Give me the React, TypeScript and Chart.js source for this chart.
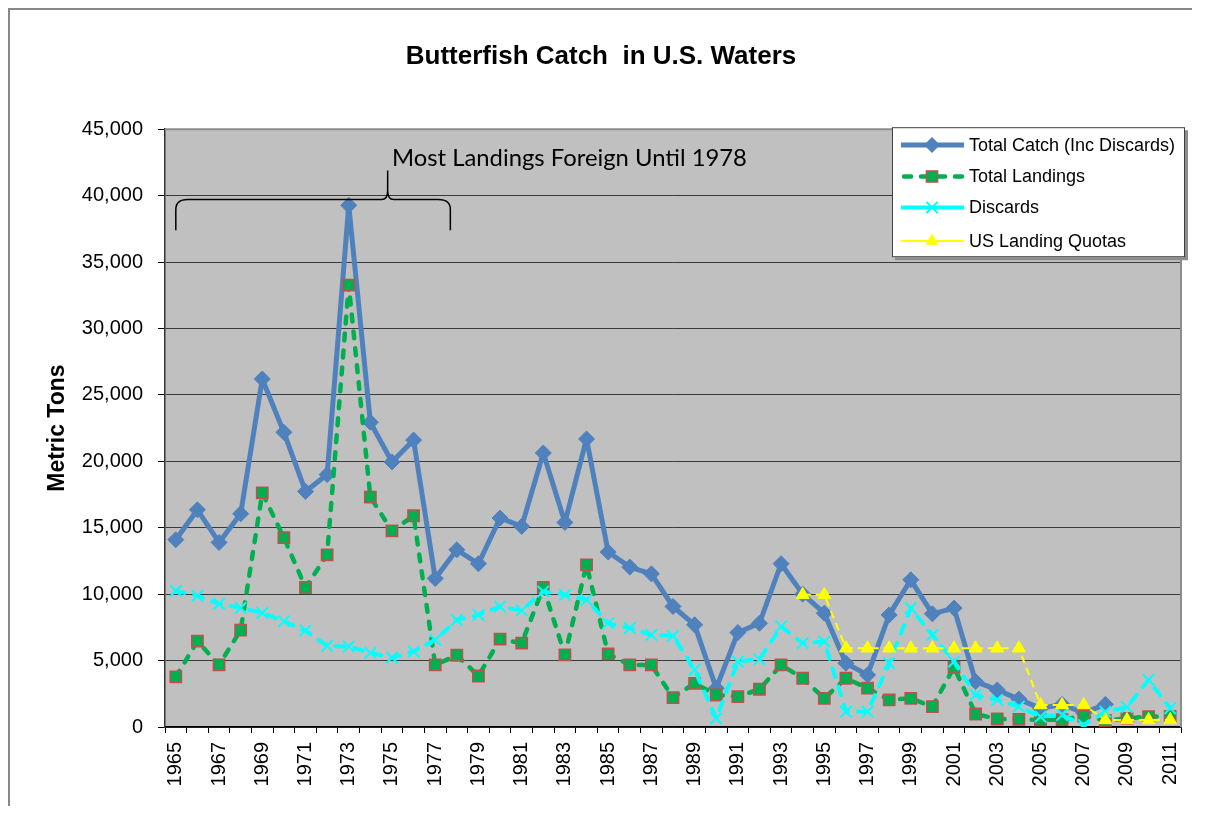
import React, { useEffect, useRef } from "react";
import { Chart, registerables } from "chart.js";

Chart.register(...registerables);

const years = [
  "1965","1966","1967","1968","1969","1970","1971","1972","1973","1974",
  "1975","1976","1977","1978","1979","1980","1981","1982","1983","1984",
  "1985","1986","1987","1988","1989","1990","1991","1992","1993","1994",
  "1995","1996","1997","1998","1999","2000","2001","2002","2003","2004",
  "2005","2006","2007","2008","2009","2010","2011",
];

const totalCatch = [
  14100, 16350, 13890, 16050, 26200, 22180, 17730, 19000, 39270, 22940,
  19950, 21600, 11180, 13340, 12290, 15730, 15100, 20630, 15400, 21680,
  13170, 12040, 11530, 9070, 7690, 2920, 7110, 7810, 12290, 10000,
  8570, 4800, 3920, 8440, 11080, 8520, 8950, 3420, 2790, 2100,
  1400, 1700, 1050, 1700, null, null, null,
];

const totalLandings = [
  3770, 6460, 4670, 7290, 17620, 14250, 10500, 12960, 33260, 17300,
  14770, 15900, 4670, 5400, 3840, 6610, 6310, 10500, 5430, 12210,
  5500, 4670, 4670, 2210, 3290, 2410, 2290, 2840, 4670, 3670,
  2160, 3670, 2920, 2040, 2160, 1530, 4500, 980, 600, 580,
  530, 560, 830, 500, 650, 780, 800,
];

const discards = [
  10250, 9870, 9270, 8970, 8590, 7960, 7260, 6100, 6060, 5580,
  5220, 5680, 6560, 8060, 8440, 9070, 8770, 10200, 9950, 9570,
  7810, 7440, 6930, 6860, 4300, 650, 4920, 5100, 7560, 6310,
  6430, 1150, 1150, 4800, 8950, 6930, 4920, 2410, 2040, 1530,
  780, 900, 150, 1150, 1500, 3540, 1410,
];

const landingQuotas = [
  null, null, null, null, null, null, null, null, null, null,
  null, null, null, null, null, null, null, null, null, null,
  null, null, null, null, null, null, null, null, null, 9950,
  9950, 5930, 5930, 5930, 5930, 5930, 5930, 5930, 5930, 5930,
  1660, 1660, 1660, 530, 530, 530, 530,
];

const seriesNames = [
  "Total Catch (Inc Discards)",
  "Total Landings",
  "Discards",
  "US Landing Quotas",
];

const chartTitle = "Butterfish Catch  in U.S. Waters";
const yAxisTitle = "Metric Tons";
const annotationText = "Most Landings Foreign Until 1978";
// annotation anchor positions in data units (category index, value)
const braceLeftIndex = 0;
const braceRightIndex = 12.7;
const braceTipIndex = 9.8;
const braceLineValue = 39700;
const braceEndValue = 37400;
const braceTipValue = 41900;
const annotationTextIndex = 10;
const annotationTextValue = 42200;

const FONT = "'Liberation Sans', Arial, sans-serif";

const styles = [
  { color: "#4F81BD", width: 5, dash: [] as number[], cap: "butt", marker: "diamond", mfill: "#4F81BD", mborder: "#4F81BD" },
  { color: "#00B050", width: 4.5, dash: [7, 10], cap: "round", marker: "square", mfill: "#00B050", mborder: "#C0504D" },
  { color: "#00FFFF", width: 4, dash: [9, 10], cap: "round", marker: "x", mfill: "#00FFFF", mborder: "#00FFFF" },
  { color: "#FFFF00", width: 2, dash: [8, 5], cap: "butt", marker: "triangle", mfill: "#FFFF00", mborder: "#FFFF00" },
];

function drawMarker(ctx: CanvasRenderingContext2D, kind: string, x: number, y: number, fill: string, border: string) {
  ctx.save();
  ctx.setLineDash([]);
  ctx.fillStyle = fill;
  ctx.strokeStyle = border;
  ctx.beginPath();
  if (kind === "diamond") {
    const r = 8;
    ctx.moveTo(x - r, y); ctx.lineTo(x, y - r); ctx.lineTo(x + r, y); ctx.lineTo(x, y + r); ctx.closePath();
    ctx.fill();
  } else if (kind === "square") {
    const s = 5.6;
    ctx.rect(x - s, y - s, 2 * s, 2 * s);
    ctx.fill();
    ctx.lineWidth = 1.5;
    ctx.stroke();
  } else if (kind === "x") {
    const s = 5.6;
    ctx.lineWidth = 2;
    ctx.moveTo(x - s, y - s); ctx.lineTo(x + s, y + s);
    ctx.moveTo(x + s, y - s); ctx.lineTo(x - s, y + s);
    ctx.stroke();
  } else {
    const r = 7.5;
    ctx.moveTo(x, y - r); ctx.lineTo(x + r * 0.866, y + r * 0.5); ctx.lineTo(x - r * 0.866, y + r * 0.5); ctx.closePath();
    ctx.fill();
  }
  ctx.restore();
}

const plotBgPlugin = {
  id: "plotBg",
  beforeDraw(chart: any) {
    const { ctx, chartArea } = chart;
    ctx.save();
    ctx.fillStyle = "#C0C0C0";
    ctx.fillRect(chartArea.left, chartArea.top, chartArea.right - chartArea.left, chartArea.bottom - chartArea.top);
    ctx.restore();
  },
  beforeDatasetsDraw(chart: any) {
    const { ctx, chartArea } = chart;
    ctx.save();
    ctx.strokeStyle = "#8C8C8C";
    ctx.lineWidth = 2;
    ctx.beginPath();
    ctx.moveTo(chartArea.left, chartArea.top);
    ctx.lineTo(chartArea.right, chartArea.top);
    ctx.lineTo(chartArea.right, chartArea.bottom);
    ctx.stroke();
    ctx.restore();
  },
};

const annotationPlugin = {
  id: "braceNote",
  afterDatasetsDraw(chart: any) {
    const { ctx } = chart;
    const xs = chart.scales.x;
    const ys = chart.scales.y;
    const xl = xs.getPixelForValue(braceLeftIndex);
    const xr = xs.getPixelForValue(braceRightIndex);
    const xt = xs.getPixelForValue(braceTipIndex);
    const yb = ys.getPixelForValue(braceLineValue);
    const ye = ys.getPixelForValue(braceEndValue);
    const yt = ys.getPixelForValue(braceTipValue);
    ctx.save();
    ctx.strokeStyle = "#000";
    ctx.lineWidth = 1.5;
    ctx.beginPath();
    ctx.moveTo(xl, ye);
    ctx.lineTo(xl, yb + 10);
    ctx.quadraticCurveTo(xl, yb, xl + 12, yb);
    ctx.lineTo(xt - 6, yb);
    ctx.quadraticCurveTo(xt, yb, xt, yb - 9);
    ctx.lineTo(xt, yt);
    ctx.moveTo(xt, yb - 9);
    ctx.quadraticCurveTo(xt, yb, xt + 6, yb);
    ctx.lineTo(xr - 12, yb);
    ctx.quadraticCurveTo(xr, yb, xr, yb + 10);
    ctx.lineTo(xr, ye);
    ctx.stroke();

    const targetWidth = 355;
    ctx.font = "22px Lato, 'Open Sans', sans-serif";
    const w = ctx.measureText(annotationText).width || targetWidth;
    const size = (22 * targetWidth) / w;
    ctx.font = `${size.toFixed(2)}px Lato, 'Open Sans', sans-serif`;
    ctx.fillStyle = "#000";
    ctx.textAlign = "left";
    ctx.textBaseline = "alphabetic";
    ctx.fillText(annotationText, xs.getPixelForValue(annotationTextIndex), ys.getPixelForValue(annotationTextValue));
    ctx.restore();
  },
};

const legendPlugin = {
  id: "boxLegend",
  afterDraw(chart: any) {
    const { ctx, chartArea } = chart;
    const w = 293;
    const h = 130;
    const x0 = chartArea.right - 289;
    const y0 = chartArea.top - 2;
    const rows = [17.7, 49.3, 80.3, 113.7];
    ctx.save();
    ctx.fillStyle = "#8C8C8C";
    ctx.fillRect(x0 + 3, y0 + 3, w, h);
    ctx.fillStyle = "#FFFFFF";
    ctx.fillRect(x0, y0, w, h);
    ctx.strokeStyle = "#404040";
    ctx.lineWidth = 1;
    ctx.strokeRect(x0 + 0.5, y0 + 0.5, w - 1, h - 1);
    seriesNames.forEach((name, i) => {
      const st = styles[i];
      const y = y0 + rows[i];
      ctx.save();
      ctx.strokeStyle = st.color;
      ctx.lineWidth = st.width;
      ctx.lineCap = i === 1 ? "round" : "butt";
      ctx.setLineDash(i === 1 ? st.dash : []);
      ctx.beginPath();
      ctx.moveTo(x0 + (i === 1 ? 12 : 9), y);
      ctx.lineTo(x0 + 72, y);
      ctx.stroke();
      ctx.restore();
      drawMarker(ctx, st.marker, x0 + 40, y, st.mfill, st.mborder);
      ctx.fillStyle = "#000";
      ctx.font = `18px ${FONT}`;
      ctx.textAlign = "left";
      ctx.textBaseline = "middle";
      ctx.fillText(name, x0 + 77, y + 1);
    });
    ctx.restore();
  },
};

export default function App() {
  const canvasRef = useRef<HTMLCanvasElement | null>(null);

  useEffect(() => {
    if (!canvasRef.current) return;
    const seriesData = [totalCatch, totalLandings, discards, landingQuotas];
    const pointStyles = ["rectRot", "rect", "crossRot", "triangle"];
    const pointRadii = [8, 8, 8, 7.5];
    const pointBorderWidths = [1, 1.5, 2, 1];
    const chart = new Chart(canvasRef.current, {
      type: "line",
      data: {
        labels: years,
        datasets: seriesData.map((d, i) => ({
          label: seriesNames[i],
          data: d,
          order: 4 - i,
          borderColor: styles[i].color,
          backgroundColor: styles[i].mfill,
          borderWidth: styles[i].width,
          borderDash: styles[i].dash,
          borderCapStyle: styles[i].cap as any,
          borderJoinStyle: "round" as any,
          tension: 0,
          spanGaps: false,
          fill: false,
          pointStyle: pointStyles[i] as any,
          pointRadius: pointRadii[i],
          pointHoverRadius: pointRadii[i],
          pointBackgroundColor: styles[i].mfill,
          pointBorderColor: styles[i].mborder,
          pointBorderWidth: pointBorderWidths[i],
        })),
      },
      options: {
        responsive: false,
        animation: false,
        devicePixelRatio: 1,
        layout: { padding: { left: 0, right: 0, top: 0, bottom: 0 } },
        plugins: {
          legend: { display: false },
          tooltip: { enabled: false },
          title: {
            display: true,
            text: chartTitle,
            color: "#000",
            font: { family: FONT, size: 26, weight: "bold" },
            padding: { top: 31, bottom: 57 },
          },
        },
        scales: {
          x: {
            type: "category",
            offset: true,
            afterFit: (scale: any) => {
              scale.height = 79;
              scale.paddingLeft = 0;
              scale.paddingRight = 11;
            },
            grid: {
              display: true,
              drawOnChartArea: false,
              drawTicks: true,
              tickLength: 6,
              offset: true,
              color: "#000",
              tickColor: "#000",
            },
            border: { display: true, color: "#000", width: 1.5 },
            ticks: {
              autoSkip: false,
              maxRotation: 90,
              minRotation: 90,
              padding: 9,
              color: "#000",
              font: { family: FONT, size: 20 },
              callback: (_v: any, i: number) => (i % 2 === 0 ? years[i] : ""),
            },
          },
          y: {
            min: 0,
            max: 45000,
            afterFit: (scale: any) => { scale.width = 155; },
            grid: {
              color: "#3A3A3A",
              tickColor: "#000",
              lineWidth: 1,
              drawTicks: true,
              tickLength: 7,
            },
            border: { display: true, color: "#333", width: 1.5 },
            ticks: {
              stepSize: 5000,
              padding: 15,
              color: "#000",
              font: { family: FONT, size: 20 },
              callback: (v: any) => Number(v).toLocaleString("en-US"),
            },
            title: {
              display: true,
              text: yAxisTitle,
              color: "#000",
              font: { family: FONT, size: 23, weight: "bold" },
              padding: { top: 34, bottom: 0 },
            },
          },
        },
      },
      plugins: [plotBgPlugin, annotationPlugin, legendPlugin],
    });
    return () => chart.destroy();
  }, []);

  return (
    <div
      style={{
        width: 1182,
        height: 796,
        borderTop: "2px solid #888",
        borderLeft: "2px solid #888",
        background: "#fff",
      }}
    >
      <canvas ref={canvasRef} width={1182} height={796} style={{ display: "block" }} />
    </div>
  );
}
